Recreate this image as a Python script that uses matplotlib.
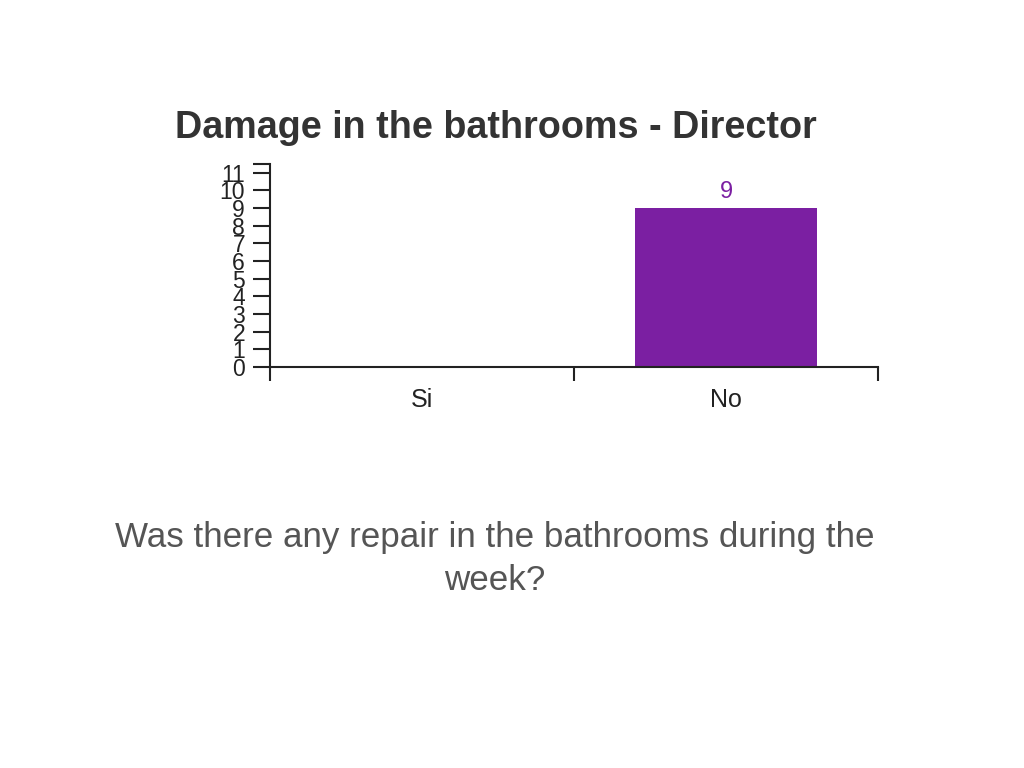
import matplotlib
matplotlib.use("Agg")
import matplotlib.pyplot as plt
import numpy as np

categories = ["Si", "No"]
values = [0, 9]
yticks = list(range(0, 12))
title = "Damage in the bathrooms - Director"
question = "Was there any repair in the bathrooms during the\nweek?"
bar_color = "#7B1FA2"

plt.rcParams['font.family'] = ['Liberation Sans', 'DejaVu Sans']

fig = plt.figure(figsize=(10.24, 7.68), dpi=100)
ax = fig.add_axes([270/1024, 1-367/768, (878-270)/1024, (367-164)/768])

x = np.arange(len(categories))
bars = ax.bar(x, values, width=0.6, color=bar_color, zorder=2)
for xi, v in zip(x, values):
    if v > 0:
        ax.text(xi, v + 0.3, str(v), ha='center', va='bottom',
                color=bar_color, fontsize=17)

ax.set_xlim(-0.5, len(categories) - 0.5)
ax.set_ylim(0, 11.5)
ax.set_yticks(yticks + [11.5])
ax.set_yticklabels([str(t) for t in yticks] + [""], fontsize=16.5, color="#222222")
ax.tick_params(axis='y', length=12, width=1.5, pad=6, color="#222222")

ax.set_xticks(x)
ax.set_xticklabels(categories, fontsize=18, color="#222222")
ax.tick_params(axis='x', length=0, pad=15)
ax.set_xticks(np.arange(-0.5, len(categories), 1.0), minor=True)
ax.tick_params(axis='x', which='minor', length=10, width=1.5, color="#222222")

for s in ['top', 'right']:
    ax.spines[s].set_visible(False)
for s in ['left', 'bottom']:
    ax.spines[s].set_linewidth(1.5)
    ax.spines[s].set_color("#222222")

fig.text(496/1024, 1-128/768, title, ha='center', va='center',
         fontsize=27.2, fontweight='bold', color="#333333")
fig.text(495/1024, 1-559/768, question, ha='center', va='center',
         fontsize=25.2, color="#555555", linespacing=1.4)

fig.savefig("out.png", dpi=100)
